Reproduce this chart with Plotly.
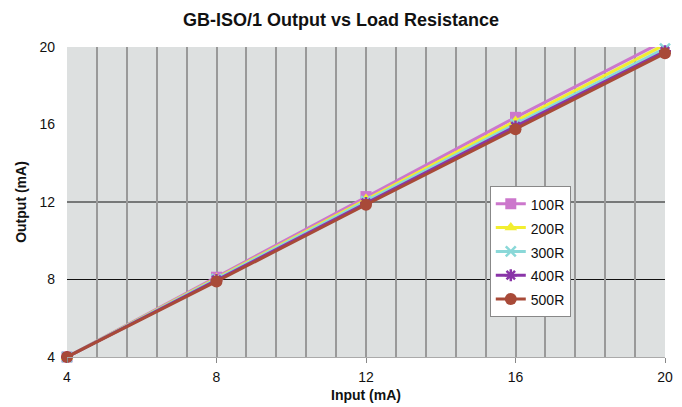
import plotly.graph_objects as go

inputs = [4, 8, 12, 16, 20]
series_names = ["100R", "200R", "300R", "400R", "500R"]
out_100R = [4.0, 8.12, 12.28, 16.37, 20.33]
out_200R = [4.0, 8.06, 12.15, 16.18, 20.12]
out_300R = [4.0, 8.02, 12.05, 16.02, 19.92]
out_400R = [4.0, 7.98, 11.95, 15.9, 19.78]
out_500R = [4.0, 7.9, 11.86, 15.75, 19.68]
grid_y_lines = [8, 12]
x_tick_labels = [4, 8, 12, 16, 20]
y_tick_labels = [4, 8, 12, 16, 20]

values = [out_100R, out_200R, out_300R, out_400R, out_500R]
colors = ["#cc77cc", "#f2ee30", "#8ad8d8", "#8a35a8", "#a84a38"]
symbols = ["square", "triangle-up", "x-thin", "asterisk", "circle"]
sizes = [11, 11, 10, 10, 12]

fig = go.Figure()
for name, ys, c, s, sz in zip(series_names, values, colors, symbols, sizes):
    marker = dict(symbol=s, size=sz, color=c)
    if s in ("x-thin", "asterisk"):
        marker["line"] = dict(color=c, width=2.5)
    fig.add_trace(go.Scatter(
        x=inputs, y=ys, name="<span style='font-size:14px'>" + name + "</span>",
        mode="lines+markers",
        line=dict(color=c, width=3), marker=marker, cliponaxis=False))

for gy in grid_y_lines:
    fig.add_shape(type="line", xref="paper", x0=0, x1=1, yref="y", y0=gy, y1=gy,
                  line=dict(color="#111111", width=1.2), layer="below")

# page body has an 8px default margin, so the figure is offset by 8px
W, H = 674, 399
fig.update_layout(
    width=W, height=H,
    margin=dict(l=59, r=17, t=39, b=50, autoexpand=False),
    paper_bgcolor="white", plot_bgcolor="#dde0e0",
    font=dict(family="Liberation Sans, Arial", size=13, color="#111111"),
    title=dict(text="<b>GB-ISO/1 Output vs Load Resistance</b>", x=(341 - 8) / W, xanchor="center",
               y=1 - 12 / H, yanchor="middle", font=dict(size=18)),
    showlegend=True,
    legend=dict(x=0.707, y=0.552, xanchor="left", yanchor="top",
                bgcolor="white", bordercolor="#888888", borderwidth=1,
                font=dict(size=16, color="#111111"), tracegroupgap=0),
    xaxis=dict(range=[4, 20], tickvals=x_tick_labels, ticks="outside", ticklen=5,
               tickcolor="#888888", showgrid=True, gridcolor="#999999", gridwidth=2,
               minor=dict(dtick=0.8, tick0=4, showgrid=True, gridcolor="#999999", gridwidth=2, ticks=""),
               showline=True, linecolor="#aaaaaa", linewidth=1, automargin=False,
               tickfont=dict(size=14), ticklabelstandoff=2,
               title=dict(text="<b>Input (mA)</b>", standoff=6, font=dict(size=14)), zeroline=False),
    yaxis=dict(range=[4, 20], tickvals=y_tick_labels, ticks="", showgrid=False,
               showline=False, zeroline=False, automargin=False,
               tickfont=dict(size=14), ticklabelstandoff=11,
               title=dict(text="<b>Output (mA)</b>", standoff=9, font=dict(size=14))),
)

fig.write_html("out.html")
